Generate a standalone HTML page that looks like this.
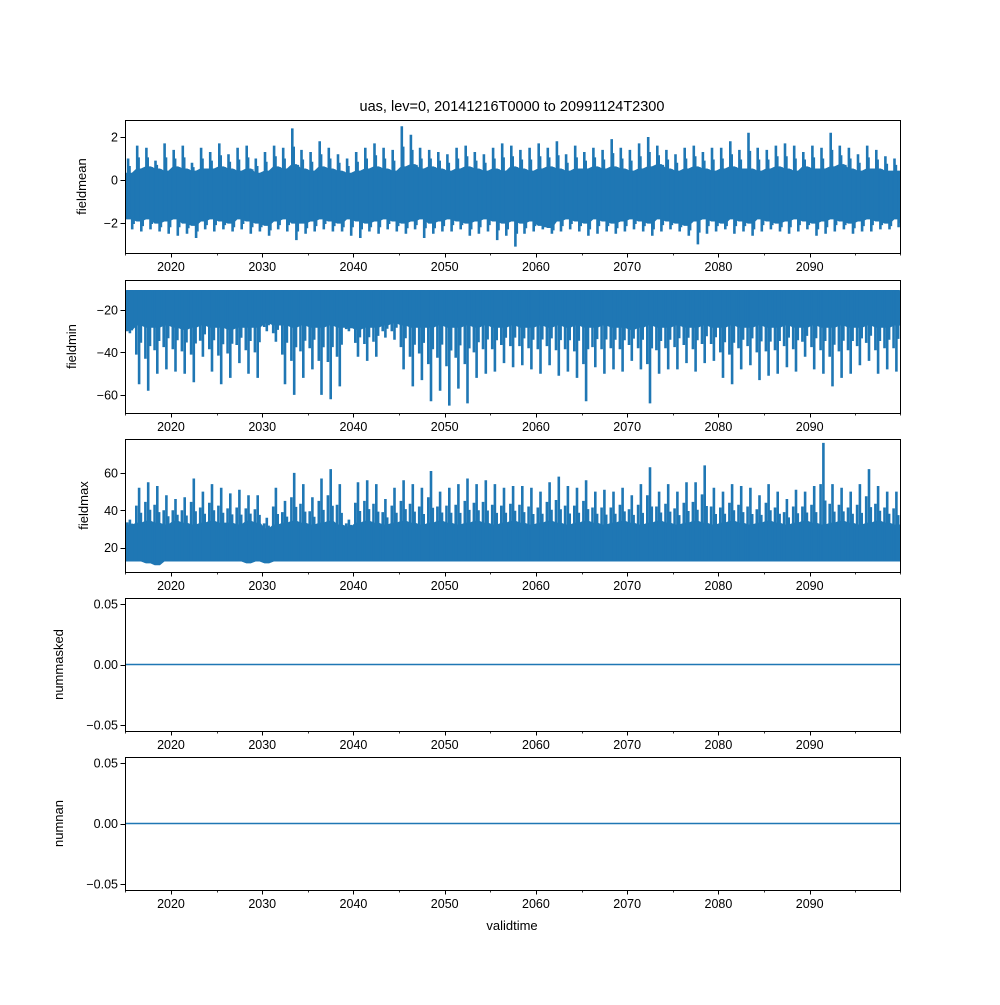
<!DOCTYPE html>
<html><head><meta charset="utf-8"><style>
body{margin:0;background:#fff;}
svg text{font-family:"Liberation Sans","DejaVu Sans",sans-serif;fill:#000;}
</style></head><body>
<svg id="c" width="1000" height="1000" xmlns="http://www.w3.org/2000/svg">
<text x="512" y="111" font-size="14.5" text-anchor="middle">uas, lev=0, 20141216T0000 to 20991124T2300</text>
<text x="512" y="930" font-size="13" text-anchor="middle">validtime</text>
</svg>
<script>
// years 2015..2099
const years = Array.from({length:85},(_,i)=>2015+i);
const xTicks = [2020,2030,2040,2050,2060,2070,2080,2090];
const xMinor = [2015,2025,2035,2045,2055,2065,2075,2085,2095,2100];
// fieldmean
const meanCoreHi = [0.3,0.5,0.6,0.5,0.4,0.6,0.5,0.4,0.5,0.5,0.6,0.5,0.4,0.5,0.3,0.4,0.6,0.5,0.7,0.5,0.4,0.6,0.5,0.4,0.3,0.4,0.5,0.6,0.5,0.4,0.6,0.7,0.5,0.6,0.5,0.4,0.5,0.6,0.5,0.4,0.5,0.4,0.6,0.5,0.4,0.5,0.6,0.5,0.4,0.5,0.5,0.6,0.5,0.6,0.5,0.4,0.5,0.6,0.7,0.5,0.4,0.5,0.6,0.5,0.4,0.5,0.6,0.5,0.5,0.4,0.5,0.6,0.5,0.4,0.6,0.5,0.5,0.6,0.7,0.5,0.4,0.5,0.5,0.4,0.4];
const meanCoreLo = [-1.8,-1.9,-1.8,-2.0,-1.9,-1.8,-2.0,-2.1,-1.9,-1.8,-1.9,-2.0,-1.8,-1.9,-2.0,-2.1,-1.9,-1.8,-2.0,-2.0,-1.9,-1.8,-1.9,-2.0,-1.8,-1.9,-2.0,-1.9,-1.8,-1.9,-2.0,-1.9,-1.8,-2.0,-1.9,-1.8,-1.9,-2.0,-1.9,-1.8,-1.9,-2.0,-1.9,-2.0,-1.9,-2.1,-2.2,-1.9,-1.8,-1.9,-2.0,-1.8,-1.9,-2.0,-1.9,-1.8,-1.9,-2.0,-1.8,-1.9,-2.0,-2.1,-1.9,-1.8,-1.9,-2.0,-1.8,-1.9,-2.0,-1.8,-1.9,-2.0,-1.9,-1.8,-1.9,-2.0,-1.9,-1.8,-1.9,-2.0,-1.9,-1.8,-1.9,-2.0,-1.8];
const meanPeakHi = [1.0,1.6,1.5,0.9,1.7,1.4,1.6,0.8,1.5,1.3,1.7,1.2,1.5,1.6,1.0,1.3,1.6,1.5,2.4,1.4,1.3,1.8,1.5,1.2,1.0,1.3,1.5,1.7,1.5,1.4,2.5,2.1,1.5,1.4,1.3,1.2,1.5,1.6,1.3,1.2,1.5,1.7,1.6,1.4,1.5,1.7,1.5,1.8,1.2,1.6,1.3,1.5,1.4,1.9,1.5,1.4,1.7,2.0,1.6,1.4,1.2,1.5,1.6,1.3,1.5,1.5,1.8,1.4,2.2,1.5,1.4,1.6,1.7,1.6,1.3,1.6,1.5,2.2,1.6,1.5,1.2,1.6,1.4,1.1,1.0];
const meanPeakLo = [-2.3,-2.4,-2.3,-2.4,-2.5,-2.6,-2.5,-2.7,-2.3,-2.4,-2.3,-2.4,-2.3,-2.5,-2.4,-2.6,-2.3,-2.4,-2.8,-2.5,-2.4,-2.3,-2.4,-2.4,-2.6,-2.7,-2.4,-2.5,-2.3,-2.4,-2.5,-2.3,-2.7,-2.5,-2.4,-2.4,-2.3,-2.6,-2.5,-2.4,-2.8,-2.6,-3.1,-2.5,-2.4,-2.3,-2.5,-2.4,-2.3,-2.4,-2.6,-2.5,-2.4,-2.5,-2.4,-2.3,-2.4,-2.6,-2.4,-2.3,-2.4,-2.6,-3.0,-2.5,-2.4,-2.3,-2.5,-2.4,-2.6,-2.4,-2.3,-2.4,-2.5,-2.4,-2.3,-2.6,-2.5,-2.4,-2.3,-2.5,-2.4,-2.4,-2.3,-2.3,-2.2];
// fieldmin
const minCoreHi = [-11,-11,-11,-11,-11,-11,-11,-11,-11,-11,-11,-11,-11,-11,-11,-11,-11,-11,-11,-11,-11,-11,-11,-11,-11,-11,-11,-11,-11,-11,-11,-11,-11,-11,-11,-11,-11,-11,-11,-11,-11,-11,-11,-11,-11,-11,-11,-11,-11,-11,-11,-11,-11,-11,-11,-11,-11,-11,-11,-11,-11,-11,-11,-11,-11,-11,-11,-11,-11,-11,-11,-11,-11,-11,-11,-11,-11,-11,-11,-11,-11,-11,-11,-11,-11];
const minCoreLo = [-29,-27,-28,-28,-27,-28,-29,-28,-27,-28,-28,-29,-28,-28,-28,-26,-27,-27,-28,-27,-28,-28,-27,-28,-28,-29,-28,-28,-27,-26,-27,-28,-28,-28,-27,-28,-28,-27,-28,-27,-28,-28,-27,-28,-28,-27,-28,-27,-28,-27,-28,-28,-27,-28,-28,-29,-28,-27,-28,-28,-27,-28,-28,-27,-28,-28,-27,-28,-28,-27,-28,-28,-27,-28,-28,-27,-28,-28,-27,-28,-28,-27,-28,-28,-27];
const minPeakLo = [-31,-55,-58,-50,-48,-49,-50,-54,-42,-49,-55,-52,-45,-50,-52,-30,-35,-55,-60,-52,-48,-60,-62,-56,-30,-42,-44,-42,-33,-34,-48,-56,-53,-63,-58,-65,-57,-64,-52,-50,-49,-45,-47,-46,-48,-50,-46,-51,-49,-52,-63,-47,-50,-48,-49,-44,-48,-64,-50,-48,-48,-45,-49,-45,-44,-52,-55,-48,-46,-53,-51,-50,-47,-49,-42,-48,-50,-56,-52,-50,-46,-44,-50,-48,-49];
// fieldmax
const maxCoreHi = [32,33,34,33,32,34,33,32,33,34,33,33,32,34,33,30,32,33,34,33,32,33,34,32,31,33,34,33,32,33,34,33,32,33,34,33,32,33,34,33,32,33,34,33,32,33,34,33,32,33,34,33,32,33,34,33,32,33,34,33,32,33,34,33,32,33,34,33,32,33,34,33,32,33,34,33,32,33,34,33,32,33,34,33,32];
const maxCoreLo = [13,13,12,11,13,13,13,13,13,13,13,13,13,12,13,12,13,13,13,13,13,13,13,13,13,13,13,13,13,13,13,13,13,13,13,13,13,13,13,13,13,13,13,13,13,13,13,13,13,13,13,13,13,13,13,13,13,13,13,13,13,13,13,13,13,13,13,13,13,13,13,13,13,13,13,13,13,13,13,13,13,13,13,13,13];
const maxPeakHi = [35,52,55,53,48,46,47,57,50,54,52,49,51,48,48,36,52,45,60,54,47,57,62,54,35,55,56,54,46,52,56,54,52,61,50,52,54,57,54,56,54,52,53,53,52,50,55,58,53,52,56,50,51,50,52,48,54,63,50,54,50,55,55,64,52,50,54,53,52,48,54,50,46,51,50,53,76,54,52,50,54,62,53,50,50];
// numbers
const zeros = years.map(()=>0);

const NS="http://www.w3.org/2000/svg";
const svg=document.getElementById('c');
const X0=125,X1=900,T0=2014.96,T1=2099.9;
const xs=t=>X0+(t-T0)/(T1-T0)*(X1-X0);
function el(tag,attrs,parent){const e=document.createElementNS(NS,tag);for(const k in attrs)e.setAttribute(k,attrs[k]);(parent||svg).appendChild(e);return e;}

const panels=[
 {name:'fieldmean',top:120,bot:253,ymin:-3.4,ymax:2.79,ticks:[-2,0,2],fmt:v=>v<0?'\u2212'+Math.abs(v):''+v,lx:82,kind:'mean'},
 {name:'fieldmin',top:280,bot:413,ymin:-68.5,ymax:-5.9,ticks:[-60,-40,-20],fmt:v=>'\u2212'+Math.abs(v),lx:72,kind:'min'},
 {name:'fieldmax',top:439,bot:572,ymin:7,ymax:78.1,ticks:[20,40,60],fmt:v=>''+v,lx:84,kind:'max'},
 {name:'nummasked',top:598,bot:731,ymin:-0.055,ymax:0.055,ticks:[-0.05,0,0.05],fmt:v=>v<0?'\u2212'+Math.abs(v).toFixed(2):v.toFixed(2),lx:59,kind:'zero'},
 {name:'numnan',top:757,bot:890,ymin:-0.055,ymax:0.055,ticks:[-0.05,0,0.05],fmt:v=>v<0?'\u2212'+Math.abs(v).toFixed(2):v.toFixed(2),lx:59,kind:'zero'}
];
const C='#1f77b4';
panels.forEach(p=>{
 const g=el('g',{});
 
 
 const ys=v=>p.bot-(v-p.ymin)/(p.ymax-p.ymin)*(p.bot-p.top);
 const cid='clip-'+p.name;
 const cp=el('clipPath',{id:cid},g);el('rect',{x:X0,y:p.top,width:X1-X0,height:p.bot-p.top},cp);
 const dg=el('g',{'clip-path':'url(#'+cid+')'},g);
 let hi,lo;
 if(p.kind==='mean'){hi=meanCoreHi;lo=meanCoreLo;}
 else if(p.kind==='min'){hi=minCoreHi;lo=minCoreLo;}
 else if(p.kind==='max'){hi=maxCoreHi;lo=maxCoreLo;}
 if(p.kind==='zero'){
  const d=years.map((y,i)=>(i?'L':'M')+xs(y).toFixed(1)+','+ys(zeros[i]).toFixed(1)).join('')+'L'+X1+','+ys(zeros[84]);
  const l=el('path',{d:d,stroke:C,'stroke-width':1.5,fill:'none'},dg);
  
  
 } else {
  let top=[],bot=[];
  years.forEach((y,i)=>{[0,0.5].forEach(o=>{top.push(xs(y+o+0.25).toFixed(1)+','+ys(hi[i]).toFixed(1));bot.unshift(xs(y+o+0.25).toFixed(1)+','+ys(lo[i]).toFixed(1));});});
  top.unshift(xs(2014.96)+','+ys(hi[0]));bot.unshift(xs(2100)+','+ys(lo[84]));top.push(xs(2100)+','+ys(hi[84]));bot.push(xs(2014.96)+','+ys(lo[0]));
  const band=el('polygon',{points:top.concat(bot).join(' '),fill:C,stroke:C,'stroke-width':1.5,'stroke-linejoin':'round'},dg);
  
  
  let d='';
  const seg=(t,a,b)=>'M'+xs(t).toFixed(1)+','+ys(a).toFixed(1)+'L'+xs(t).toFixed(1)+','+ys(b).toFixed(1);
  years.forEach((y,i)=>{
   if(p.kind==='mean'){
    d+=seg(y+0.3,meanPeakHi[i],lo[i]);
    d+=seg(y+0.45,(meanPeakHi[i]+hi[i])/2,lo[i]);
    d+=seg(y+0.75,meanPeakLo[i],hi[i]);
    d+=seg(y+0.9,(meanPeakLo[i]+lo[i])/2,hi[i]);
   } else if(p.kind==='min'){
    d+=seg(y+0.5,minPeakLo[i],hi[i]);
    d+=seg(y+0.2,(minPeakLo[i]+lo[i])/2,hi[i]);
    d+=seg(y+0.7,(minPeakLo[i]*0.3+lo[i]*0.7),hi[i]);
   } else {
    d+=seg(y+0.5,maxPeakHi[i],lo[i]);
    d+=seg(y+0.2,(maxPeakHi[i]+hi[i])/2,lo[i]);
    d+=seg(y+0.7,(maxPeakHi[i]*0.3+hi[i]*0.7),lo[i]);
   }
  });
  const sp=el('path',{d:d,stroke:C,'stroke-width':2.6,fill:'none'},dg);
  
  
 }
 const fr=el('rect',{x:X0+0.5,y:p.top+0.5,width:X1-X0,height:p.bot-p.top,fill:'none',stroke:'#000','stroke-width':1},g);
 
 
 xTicks.forEach(t=>{
  const xx=Math.round(xs(t))+0.5;
  el('line',{x1:xx,x2:xx,y1:p.bot,y2:p.bot+4.5,stroke:'#000','stroke-width':1},g);
  const tx=el('text',{x:xs(t),y:p.bot+18,'font-size':12.5,'text-anchor':'middle'},g);tx.textContent=t;
  
  
 });
 xMinor.forEach(t=>{if(t<T1+0.2){const xx=Math.round(xs(Math.min(t,T1)))+0.5;el('line',{x1:xx,x2:xx,y1:p.bot,y2:p.bot+2.5,stroke:'#000','stroke-width':0.8},g);}});
 p.ticks.forEach(v=>{
  const yy=Math.round(ys(v))+0.5;
  el('line',{x1:X0-4.5,x2:X0,y1:yy,y2:yy,stroke:'#000','stroke-width':1},g);
  const tx=el('text',{x:X0-7,y:ys(v)+4.5,'font-size':12.5,'text-anchor':'end'},g);tx.textContent=p.fmt(v);
  
  
 });
 const yl=el('text',{x:p.lx+4,y:(p.top+p.bot)/2,'font-size':13,'text-anchor':'middle',transform:'rotate(-90 '+(p.lx+4)+' '+(p.top+p.bot)/2+')'},g);
 yl.textContent=p.name;
 
 
});
</script>
</body></html>
